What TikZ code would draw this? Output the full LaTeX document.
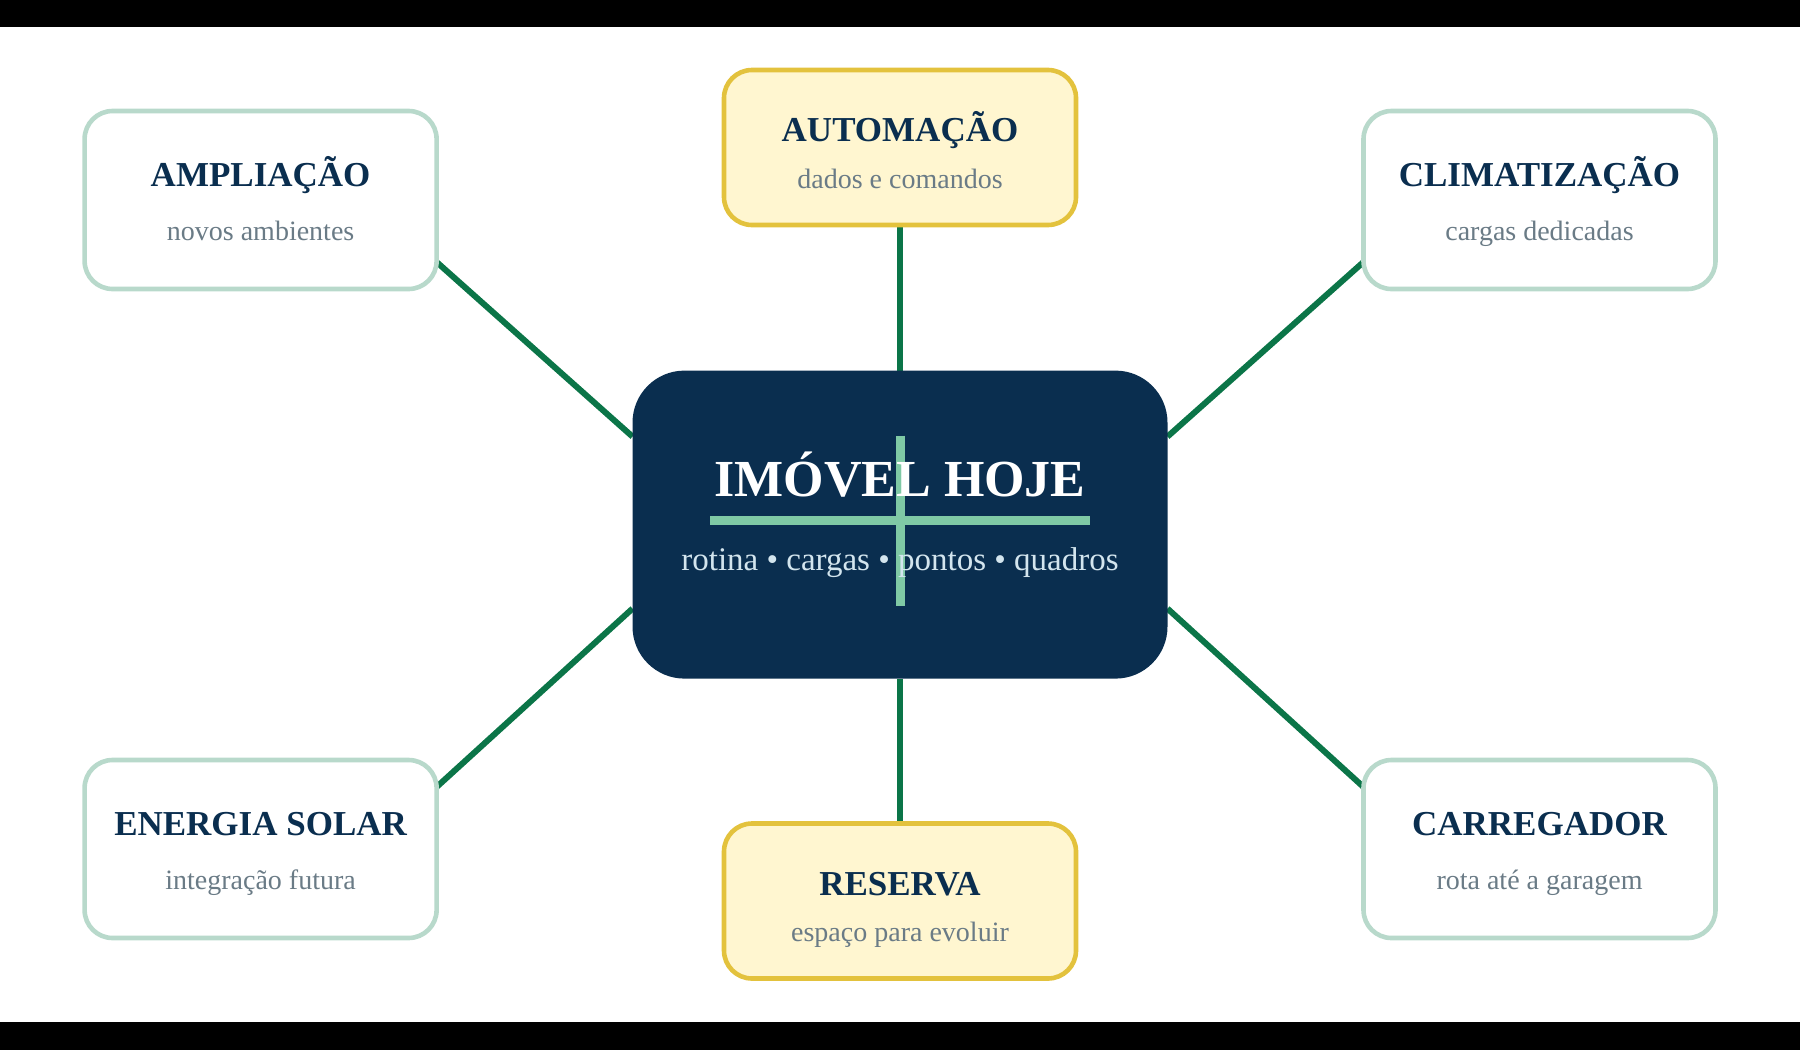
\documentclass[tikz,border=0pt]{standalone}
\usepackage{fontspec}
\setmainfont{Liberation Serif}
\usetikzlibrary{calc, backgrounds}

\definecolor{navy}{HTML}{0A2E4F}
\definecolor{leaf}{HTML}{0B7548}
\definecolor{mint}{HTML}{B8D9CB}
\definecolor{crossgreen}{HTML}{7FC9A5}
\definecolor{gold}{HTML}{E3C23D}
\definecolor{cream}{HTML}{FFF6D0}
\definecolor{slate}{HTML}{6A7B86}
\definecolor{mist}{HTML}{D3E5EE}

\begin{document}
\begin{tikzpicture}[
    x=0.5pt, y=-0.5pt,
    every node/.style={inner sep=0pt, outer sep=0pt},
    hubbox/.style={fill=navy, rounded corners=26pt, minimum width=267.5pt, minimum height=154pt},
    box/.style={draw=mint, line width=2.3pt, fill=white, rounded corners=14pt, minimum width=176pt, minimum height=89pt},
    keybox/.style={box, draw=gold, fill=cream, minimum height=77.5pt},
    ttl/.style={font=\fontsize{17.5}{20}\selectfont\bfseries, text=navy, anchor=base},
    sub/.style={font=\fontsize{14}{16}\selectfont, text=slate, anchor=base},
    link/.style={draw=leaf, line width=3pt},
]
\useasboundingbox (0,0) rectangle (1800,1050);

% black bands
\fill[black] (0,0) rectangle (1800,27);
\fill[black] (0,1022) rectangle (1800,1050);

% centre
\node[hubbox] (hub) at (900,524.6) {};
\draw[crossgreen, line width=4.5pt] ($(hub)+(-190,-4)$) -- ($(hub)+(190,-4)$);
\draw[crossgreen, line width=4.5pt] ($(hub)+(0,-89)$) -- ($(hub)+(0,81)$);
\node[anchor=base, text=white, font=\fontsize{26}{30}\selectfont\bfseries] (hubT) at ($(hub)+(0,-28)$) {IMÓVEL HOJE};
\node[anchor=base, text=mist, font=\fontsize{16.5}{20}\selectfont] (hubS) at ($(hub)+(0,46)$) {rotina • cargas • pontos • quadros};

% satellites
\node[box] (ampl) at (260.6,200) {};
\node[ttl] (amplT) at ($(ampl)+(0,-14)$) {AMPLIAÇÃO};
\node[sub] (amplS) at ($(ampl)+(0,40)$) {novos ambientes};

\node[keybox] (auto) at (900,147.5) {};
\node[ttl] (autoT) at ($(auto)+(0,-6)$) {AUTOMAÇÃO};
\node[sub] (autoS) at ($(auto)+(0,41)$) {dados e comandos};

\node[box] (clim) at (1539.5,200) {};
\node[ttl] (climT) at ($(clim)+(0,-14)$) {CLIMATIZAÇÃO};
\node[sub] (climS) at ($(clim)+(0,40)$) {cargas dedicadas};

\node[box] (solar) at (260.6,849) {};
\node[ttl] (solarT) at ($(solar)+(0,-14)$) {ENERGIA SOLAR};
\node[sub] (solarS) at ($(solar)+(0,40)$) {integração futura};

\node[keybox] (resv) at (900,901) {};
\node[ttl] (resvT) at ($(resv)+(0,-6)$) {RESERVA};
\node[sub] (resvS) at ($(resv)+(0,40)$) {espaço para evoluir};

\node[box] (carr) at (1539.5,849) {};
\node[ttl] (carrT) at ($(carr)+(0,-14)$) {CARREGADOR};
\node[sub] (carrS) at ($(carr)+(0,40)$) {rota até a garagem};

% links
\begin{scope}[on background layer]
\draw[link] ($(ampl.east)+(0,62)$) -- ($(hub.west)+(0,-88)$);
\draw[link] ($(solar.east)+(0,-62)$) -- ($(hub.west)+(0,84)$);
\draw[link] ($(clim.west)+(0,62)$) -- ($(hub.east)+(0,-88)$);
\draw[link] ($(carr.west)+(0,-62)$) -- ($(hub.east)+(0,84)$);
\draw[link] (auto) -- (hub);
\draw[link] (hub) -- (resv);
\end{scope}

\end{tikzpicture}
\end{document}
